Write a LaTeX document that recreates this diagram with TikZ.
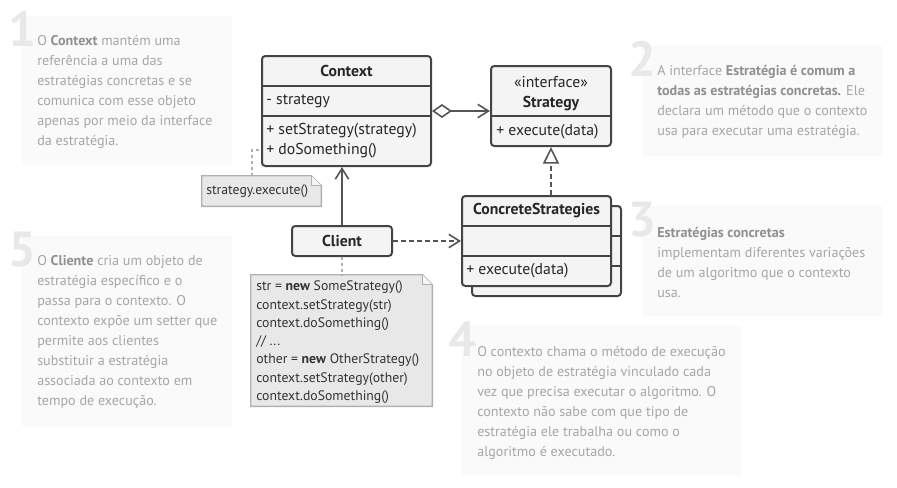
\documentclass[tikz,border=0pt]{standalone}
\usepackage{fontspec}
\setmainfont{PT Sans}
\usetikzlibrary{arrows.meta,calc}
\definecolor{umlline}{HTML}{444444}
\definecolor{umlfill}{HTML}{F4F4F4}
\definecolor{conn}{HTML}{555555}
\definecolor{notefill}{HTML}{E8E8E8}
\definecolor{noteline}{HTML}{B0B0B0}
\definecolor{notefold}{HTML}{F4F4F4}
\definecolor{annobg}{HTML}{FAFAFA}
\definecolor{annotext}{HTML}{A6A6A6}
\definecolor{annobold}{HTML}{909090}
\definecolor{annonum}{HTML}{E8E8E8}
\definecolor{codetext}{HTML}{333333}
\newcommand\hb[1]{{\bfseries\color{annobold}#1}}
\begin{document}
\begin{tikzpicture}[x=0.75pt,y=-0.75pt,
  umlbox/.style={draw=umlline, fill=umlfill, line width=1.5pt, rounded corners=2.5pt, inner sep=0},
  divline/.style={draw=umlline, line width=1.5pt},
  umltxt/.style={font=\fontsize{11.8}{13}\selectfont, text=black!85, inner sep=0},
  umlbold/.style={umltxt, font=\fontsize{11.8}{13}\selectfont\bfseries},
  conn/.style={draw=conn, line width=1.2pt},
  openhead/.style={-{Straight Barb[length=8pt,width=10pt]}},
  dashedconn/.style={conn, dash pattern=on 3.4pt off 2.6pt},
  noteconn/.style={draw=noteline, line width=1.1pt, dash pattern=on 2.2pt off 2.2pt},
  notebox/.style={inner sep=0},
  notedraw/.style={draw=noteline, fill=notefill, line width=1.1pt},
  codetxt/.style={font=\fontsize{10.3}{13.7}\selectfont, text=codetext, inner sep=0, align=left},
  annobox/.style={fill=annobg, draw=none, inner sep=0},
  annotxt/.style={font=\fontsize{10.6}{15}\selectfont, text=annotext, inner sep=0, align=left, anchor=base west},
  annonumber/.style={font=\fontsize{37}{37}\selectfont\bfseries, text=annonum, inner sep=0, anchor=base east}
]
\useasboundingbox (0,0) rectangle (897,487);

% ---------- annotation backgrounds ----------
\node[annobox, minimum width={210*0.75pt}, minimum height={150*0.75pt}] (n1bg) at (127,91) {};
\node[annobox, minimum width={240*0.75pt}, minimum height={110*0.75pt}] (n2bg) at (762,101) {};
\node[annobox, minimum width={240*0.75pt}, minimum height={110*0.75pt}] (n3bg) at (762,261) {};
\node[annobox, minimum width={280*0.75pt}, minimum height={149*0.75pt}] (n4bg) at (602,400.5) {};
\node[annobox, minimum width={210*0.75pt}, minimum height={190*0.75pt}] (n5bg) at (127,331) {};

\node[annonumber] (n1num) at (37,46) {1};
\node[annonumber] (n2num) at (657,76) {2};
\node[annonumber] (n3num) at (657,236) {3};
\node[annonumber] (n4num) at (477,356) {4};
\node[annonumber] (n5num) at (37,266) {5};

% anchors are at the baseline of the LAST line of each text
\node[annotxt] (n1txt) at (37,145.5) {O \hb{Context} mantém uma\\referência a uma das\\estratégias concretas e se\\comunica com esse objeto\\apenas por meio da interface\\da estratégia.};
\node[annotxt] (n2txt) at (657,135.5) {A interface \hb{Estratégia é comum a}\\\hb{todas as estratégias concretas.} Ele\\declara um método que o contexto\\usa para executar uma estratégia.};
\node[annotxt] (n3txt) at (657,297) {\hb{Estratégias concretas}\\implementam diferentes variações\\de um algoritmo que o contexto\\usa.};
\node[annotxt] (n4txt) at (477,456) {O contexto chama o método de execução\\no objeto de estratégia vinculado cada\\vez que precisa executar o algoritmo. O\\contexto não sabe com que tipo de\\estratégia ele trabalha ou como o\\algoritmo é executado.};
\node[annotxt] (n5txt) at (37,405.5) {O \hb{Cliente} cria um objeto de\\estratégia específico e o\\passa para o contexto. O\\contexto expõe um setter que\\permite aos clientes\\substituir a estratégia\\associada ao contexto em\\tempo de execução.};

% ---------- Context ----------
\node[umlbox, minimum width={169*0.75pt}, minimum height={110*0.75pt}] (ctx) at (346.5,111) {};
\draw[divline] (ctx.west |- 0,86) -- (ctx.east |- 0,86);
\draw[divline] (ctx.west |- 0,116) -- (ctx.east |- 0,116);
\node[umlbold] (ctxT) at (346.5,71) {Context};
\node[umltxt, anchor=west] (ctxA) at (266,101) {- strategy};
\node[umltxt, anchor=west] (ctxM1) at (266,131) {+ setStrategy(strategy)};
\node[umltxt, anchor=west] (ctxM2) at (266,151) {+ doSomething()};

% ---------- Strategy ----------
\node[umlbox, minimum width={120*0.75pt}, minimum height={80*0.75pt}] (strat) at (551,106) {};
\draw[divline] (strat.west |- 0,116) -- (strat.east |- 0,116);
\node[umltxt] (stratS) at (551,82) {«interface»};
\node[umlbold] (stratT) at (551,104) {Strategy};
\node[umltxt, anchor=west] (stratM) at (496,131.5) {+ execute(data)};

% ---------- ConcreteStrategies ----------
\node[umlbox, minimum width={149*0.75pt}, minimum height={90*0.75pt}] (csback) at (546.5,251) {};
\draw[divline] (csback.west |- 0,236) -- (csback.east |- 0,236);
\draw[divline] (csback.west |- 0,266) -- (csback.east |- 0,266);
\node[umlbox, minimum width={149*0.75pt}, minimum height={90*0.75pt}] (cs) at (536.5,241) {};
\draw[divline] (cs.west |- 0,226) -- (cs.east |- 0,226);
\draw[divline] (cs.west |- 0,256) -- (cs.east |- 0,256);
\node[umlbold] (csT) at (536.5,211) {ConcreteStrategies};
\node[umltxt, anchor=west] (csM) at (466,271) {+ execute(data)};

% ---------- Client ----------
\node[umlbox, minimum width={100*0.75pt}, minimum height={30*0.75pt}] (client) at (342,241) {};
\node[umlbold] (clientT) at (342,241) {Client};

% ---------- notes ----------
\node[notebox, minimum width={119*0.75pt}, minimum height={30*0.75pt}] (en) at (261.5,191) {};
\draw[notedraw] (en.south west) -- (en.north west) -- ($(en.north east)+(-10,0)$) -- ($(en.north east)+(0,10)$) -- (en.south east) -- cycle;
\draw[draw=noteline, fill=notefold, line width=1.1pt, line join=round] ($(en.north east)+(-10,0)$) -- ($(en.north east)+(-10,10)$) -- ($(en.north east)+(0,10)$);
\node[codetxt, anchor=west] (enT) at (206,191) {strategy.execute()};

\node[notebox, minimum width={181*0.75pt}, minimum height={131*0.75pt}] (code) at (341.5,340.5) {};
\draw[notedraw] (code.south west) -- (code.north west) -- ($(code.north east)+(-10,0)$) -- ($(code.north east)+(0,10)$) -- (code.south east) -- cycle;
\draw[draw=noteline, fill=notefold, line width=1.1pt, line join=round] ($(code.north east)+(-10,0)$) -- ($(code.north east)+(-10,10)$) -- ($(code.north east)+(0,10)$);
\node[codetxt, anchor=base west] (codeT) at (256,400.5) {str = \textbf{new} SomeStrategy()\\context.setStrategy(str)\\context.doSomething()\\// ...\\other = \textbf{new} OtherStrategy()\\context.setStrategy(other)\\context.doSomething()};

% ---------- connectors ----------
\draw[conn, {Diamond[length=15pt,width=10.5pt,fill=white]}-{Straight Barb[length=8pt,width=10pt]}] (ctx.east) -- (ctx.east -| strat.west);
\draw[dashedconn, -{Triangle[open,length=12.5pt,width=12pt]}] (strat.south |- cs.north) -- (strat.south);
\draw[conn, openhead] (client.north) -- (client.north |- ctx.south);
\draw[dashedconn, openhead] (client.east) -- (cs.west);
\draw[noteconn] (client.south) -- (client.south |- code.north);
\coordinate (enbend) at (252,150);
\draw[noteconn] (enbend |- en.north) |- (ctx.west |- enbend);
\end{tikzpicture}
\end{document}
